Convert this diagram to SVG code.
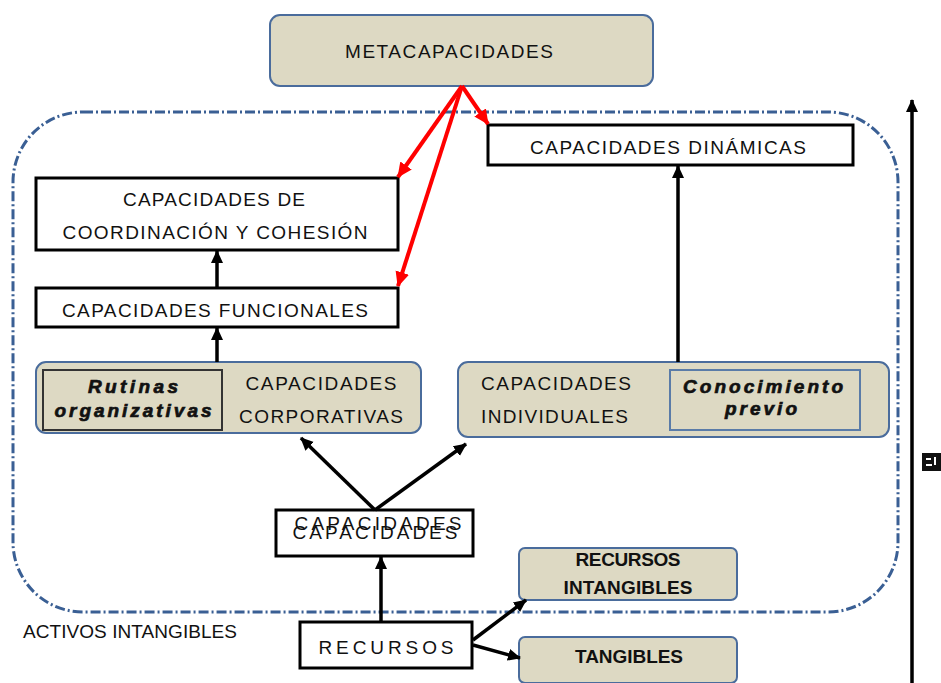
<svg xmlns="http://www.w3.org/2000/svg" width="941" height="683" viewBox="0 0 941 683">
  <defs>
    <style>
      .t { font-family: "Liberation Sans", Arial, sans-serif; font-size: 19px; fill: #111; }
      .c { text-anchor: middle; }
      .bi { font-weight: bold; font-style: italic; stroke: #111; stroke-width: 0.7; }
      .b { font-weight: bold; }
      .box { fill: #ffffff; stroke: #000; stroke-width: 3; }
      .tan { fill: #ddd9c3; stroke: #4a6c9c; stroke-width: 2; }
      .blk { stroke: #000; stroke-width: 3.5; fill: none; }
      .red { stroke: #ff0000; stroke-width: 4; fill: none; }
    </style>
    <marker id="ah" markerUnits="userSpaceOnUse" markerWidth="14" markerHeight="14" viewBox="0 0 14 14" refX="12" refY="7" orient="auto">
      <path d="M0,1 L13,7 L0,13 z" fill="#000"/>
    </marker>
    <marker id="ahr" markerUnits="userSpaceOnUse" markerWidth="16" markerHeight="16" viewBox="0 0 16 16" refX="14" refY="8" orient="auto">
      <path d="M0,1 L15,8 L0,15 z" fill="#ff0000"/>
    </marker>
  </defs>

  <!-- intangible assets boundary -->
  <rect x="13" y="112" width="885" height="500" rx="70" ry="70" fill="none" stroke="#3a5f94" stroke-width="3" stroke-dasharray="10 3 2 3"/>

  <g id="metacapacidades">
    <rect class="tan" x="270" y="15" width="383" height="71" rx="10"/>
    <text class="t c" x="449" y="58" font-size="20" textLength="208">METACAPACIDADES</text>
  </g>

  <g id="dinamicas">
    <rect class="box" x="488" y="125" width="365" height="40"/>
    <text class="t c" x="668" y="154" textLength="276">CAPACIDADES DINÁMICAS</text>
  </g>

  <g id="coordinacion">
    <rect class="box" x="36" y="178" width="362" height="72"/>
    <text class="t c" x="214" y="206" font-size="20" textLength="182">CAPACIDADES DE</text>
    <text class="t c" x="215" y="239" font-size="20" textLength="305">COORDINACIÓN Y COHESIÓN</text>
  </g>

  <g id="funcionales">
    <rect class="box" x="36" y="288" width="362" height="39"/>
    <text class="t c" x="215" y="317" textLength="306">CAPACIDADES FUNCIONALES</text>
  </g>

  <g id="corporativas">
    <rect class="tan" x="36" y="362" width="385" height="71" rx="10"/>
    <rect x="43" y="370" width="179" height="60" fill="#ddd9c3" stroke="#333" stroke-width="2"/>
    <text class="t c bi" x="133" y="393" textLength="90">Rutinas</text>
    <text class="t c bi" x="133" y="417" textLength="157">organizativas</text>
    <text class="t c" x="321" y="390" textLength="151">CAPACIDADES</text>
    <text class="t c" x="321" y="423" textLength="164">CORPORATIVAS</text>
  </g>

  <g id="individuales">
    <rect class="tan" x="458" y="362" width="431" height="75" rx="10"/>
    <rect x="670" y="370" width="190" height="60" fill="#ddd9c3" stroke="#5a7ca8" stroke-width="2"/>
    <text class="t" x="481" y="390" textLength="150">CAPACIDADES</text>
    <text class="t" x="481" y="423" textLength="147">INDIVIDUALES</text>
    <text class="t c bi" x="763" y="393" textLength="160">Conocimiento</text>
    <text class="t c bi" x="761" y="415" textLength="72">previo</text>
  </g>

  <g id="capacidades">
    <rect class="box" x="276" y="510" width="197" height="46"/>
    <text class="t c" x="378" y="530" font-size="20" textLength="167">CAPACIDADES</text>
    <text class="t c" x="375" y="539" font-size="20" textLength="165">CAPACIDADES</text>
  </g>

  <g id="recursos">
    <rect class="box" x="300" y="622" width="172" height="46"/>
    <text class="t c" x="386" y="654" font-size="23" textLength="135">RECURSOS</text>
  </g>

  <g id="recursos-intangibles">
    <rect class="tan" x="519" y="548" width="218" height="52" rx="6"/>
    <text class="t c b" x="628" y="566" font-size="17" textLength="105">RECURSOS</text>
    <text class="t c b" x="628" y="594" font-size="17" textLength="129">INTANGIBLES</text>
  </g>

  <g id="tangibles">
    <rect class="tan" x="519" y="637" width="218" height="46" rx="6"/>
    <text class="t c b" x="629" y="663" font-size="17" textLength="108">TANGIBLES</text>
  </g>

  <g id="activos-label">
    <text class="t" x="23" y="638" font-size="18" textLength="214">ACTIVOS INTANGIBLES</text>
  </g>

  <!-- clipped side label -->
  <g id="side-label">
    <rect x="922" y="453" width="19" height="18" fill="#111"/>
    <rect x="926" y="458" width="5" height="2" fill="#fff"/>
    <rect x="926" y="464" width="6" height="2" fill="#fff"/>
    <rect x="934" y="457" width="2" height="8" fill="#fff"/>
  </g>

  <g id="connectors">
    <!-- red links from meta-capabilities -->
    <line class="red" x1="462" y1="86" x2="488" y2="124" marker-end="url(#ahr)"/>
    <line class="red" x1="462" y1="86" x2="398" y2="177" marker-end="url(#ahr)"/>
    <line class="red" x1="462" y1="86" x2="398" y2="286" marker-end="url(#ahr)"/>
    <!-- black upward links -->
    <line class="blk" x1="217" y1="288" x2="217" y2="251" marker-end="url(#ah)"/>
    <line class="blk" x1="217" y1="362" x2="217" y2="328" marker-end="url(#ah)"/>
    <line class="blk" x1="678" y1="362" x2="678" y2="166" marker-end="url(#ah)"/>
    <line class="blk" x1="375" y1="510" x2="301" y2="438" marker-end="url(#ah)"/>
    <line class="blk" x1="375" y1="510" x2="466" y2="444" marker-end="url(#ah)"/>
    <line class="blk" x1="381" y1="622" x2="381" y2="557" stroke-width="4" marker-end="url(#ah)"/>
    <line class="blk" x1="473" y1="640" x2="526" y2="600" marker-end="url(#ah)"/>
    <line class="blk" x1="473" y1="645" x2="520" y2="658" marker-end="url(#ah)"/>
    <!-- right-hand scale arrow -->
    <line class="blk" x1="912" y1="683" x2="912" y2="100" marker-end="url(#ah)"/>
  </g>
</svg>
